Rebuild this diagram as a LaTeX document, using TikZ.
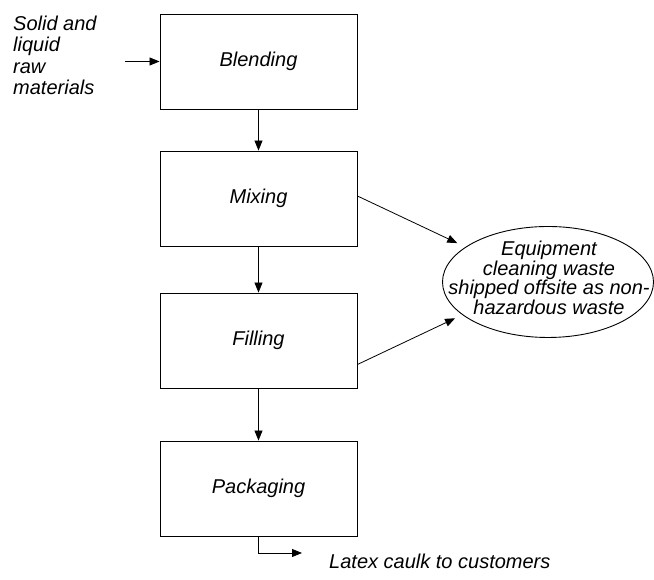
\documentclass[tikz,border=0pt]{standalone}
\usepackage{fontspec}
\setmainfont{Liberation Sans}
\usetikzlibrary{arrows.meta,shapes.geometric}
\tikzset{
  procbox/.style={draw, line width=0.9pt, minimum width=197pt, minimum height=95pt, inner sep=0pt,
    font=\fontsize{20}{20.5}\selectfont\itshape},
  wasteell/.style={draw, ellipse, line width=0.9pt, minimum width=211pt, minimum height=111pt, inner sep=0pt},
  lbl/.style={inner sep=0pt, font=\fontsize{20}{21.5}\selectfont\itshape},
  elltext/.style={inner sep=0pt, align=center, font=\fontsize{20}{19.7}\selectfont\itshape},
  arr/.style={line width=0.8pt, -{Triangle[length=10pt,width=8pt]}}
}
\begin{document}
\begin{tikzpicture}[x=1pt,y=1pt]
\useasboundingbox (0,0) rectangle (654,580);
\node[procbox] (blending) at (258.5,518.5) {Blending};
\node[procbox] (mixing) at (258.5,381.5) {Mixing};
\node[procbox] (filling) at (258.5,239.5) {Filling};
\node[procbox] (packaging) at (258.5,91.5) {Packaging};
\node[wasteell] (waste) at (548,298) {};
\node[elltext] (wastetext) at (549,302) {Equipment\\cleaning waste\\shipped offsite as non-\\hazardous waste};
\node[lbl, anchor=west, align=left] (rawlbl) at (13,524.5) {Solid and\\liquid\\raw\\materials};
\coordinate (rawin) at (125,518.5);
\coordinate (outend) at (302,27);
\node[lbl, anchor=base west] (outlbl) at (329,11) {Latex caulk to customers};
\draw[arr] (rawin) -- (blending.west);
\draw[arr] (blending.south) -- (mixing.north);
\draw[arr] (mixing.south) -- (filling.north);
\draw[arr] (filling.south) -- (packaging.north);
\draw[arr, shorten >=9pt] ([yshift=2.5pt]mixing.east) -- (waste.157);
\draw[arr, shorten >=8pt] ([yshift=-24pt]filling.east) -- (waste.201);
\draw[arr] (packaging.south) |- (outend);
\end{tikzpicture}
\end{document}
